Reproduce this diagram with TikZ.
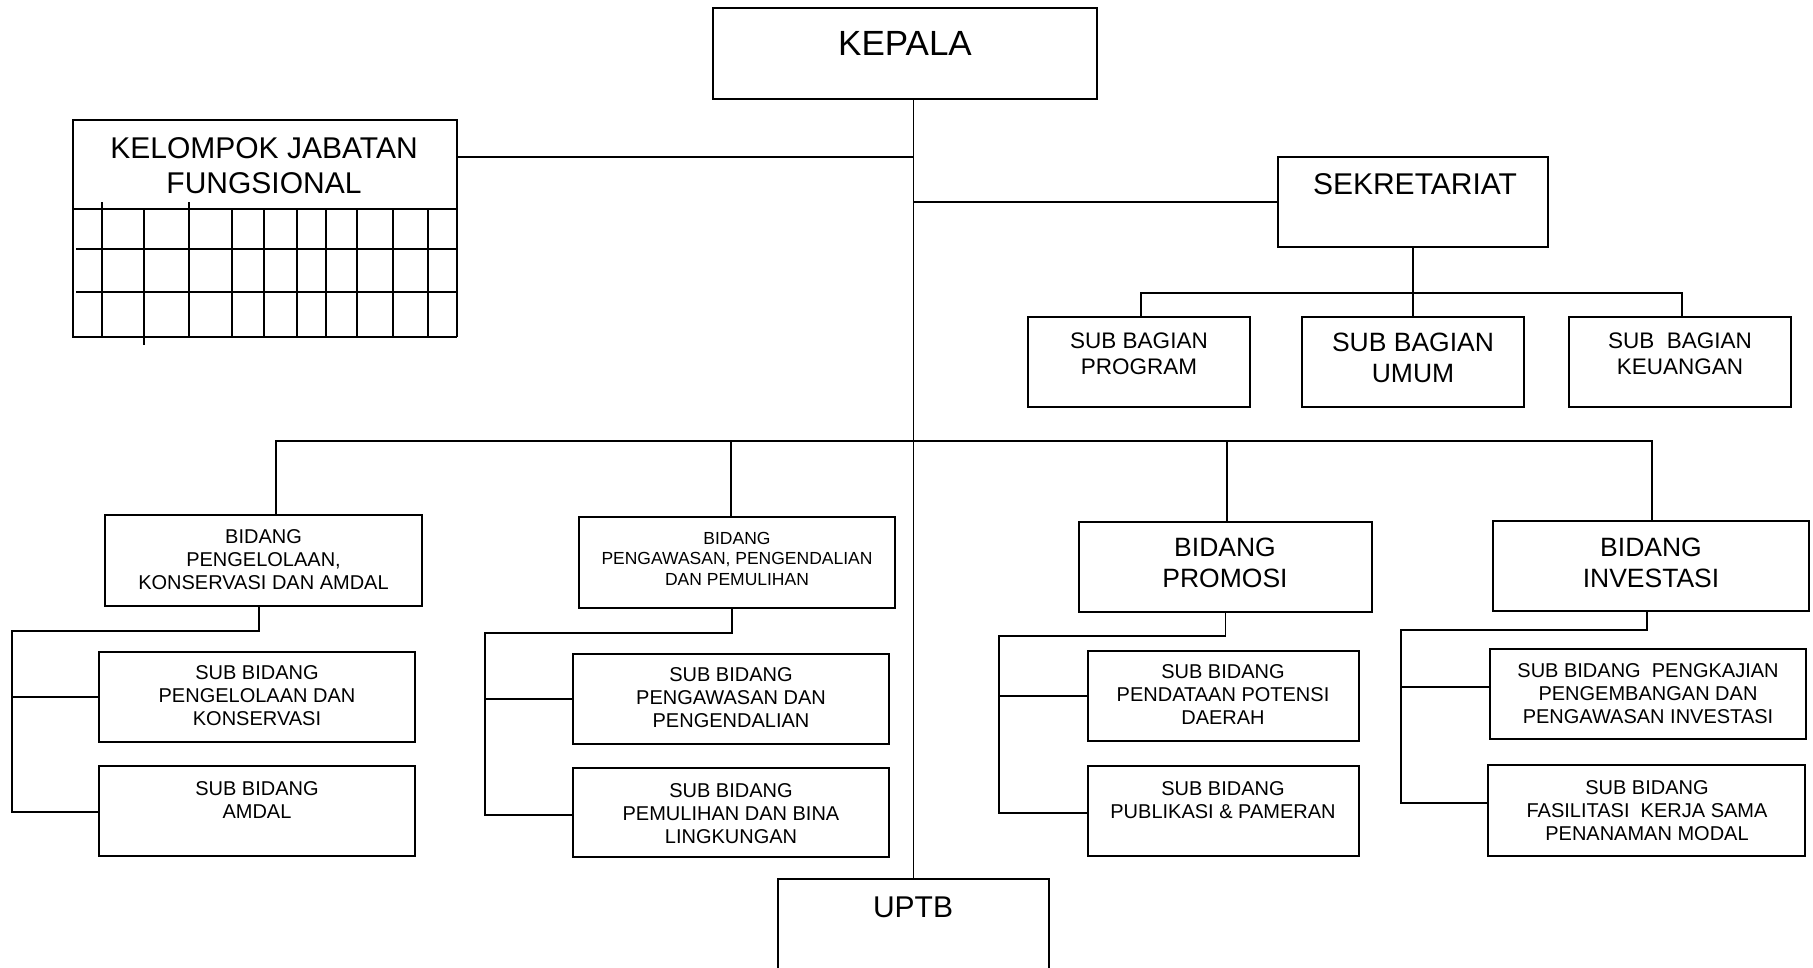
\documentclass[tikz,border=0pt]{standalone}
\usepackage{fontspec}
\setmainfont{Liberation Sans}
\tikzset{
  box/.style={draw, line width=1.8pt, rectangle, inner sep=0pt, outer sep=0pt},
  conn/.style={line width=1.8pt},
  gridln/.style={line width=1.8pt},
  tA/.style={font=\fontsize{35}{40}\selectfont, align=center, inner sep=0pt},
  tB/.style={font=\fontsize{30}{35}\selectfont, align=center, inner sep=0pt},
  tC/.style={font=\fontsize{26.5}{31}\selectfont, align=center, inner sep=0pt},
  tD/.style={font=\fontsize{22.5}{26}\selectfont, align=center, inner sep=0pt},
  tE/.style={font=\fontsize{20}{23}\selectfont, align=center, inner sep=0pt},
  tF/.style={font=\fontsize{17.5}{20.5}\selectfont, align=center, inner sep=0pt},
}
\newcommand\orgbox[5]{\node[box, minimum width={(#4)-(#2)}, minimum height={(#5)-(#3)}] (#1) at ({((#2)+(#4))/2},{((#3)+(#5))/2}) {};}
\begin{document}
\begin{tikzpicture}[x=1pt,y=-1pt]
\useasboundingbox (0,0) rectangle (1813,967);
\clip (0,0) rectangle (1813,967);

% ---------- boxes ----------
\orgbox{kepala}{713}{8}{1097}{99}
\orgbox{kel}{73}{120}{457}{209}
\orgbox{sek}{1278}{157}{1548}{247}
\orgbox{prog}{1028}{317}{1250}{407}
\orgbox{umum}{1302}{317}{1524}{407}
\orgbox{keu}{1569}{317}{1791}{407}
\orgbox{b1}{105}{515}{422}{606}
\orgbox{b2}{579}{517}{895}{608}
\orgbox{b3}{1079}{522}{1372}{612}
\orgbox{b4}{1493}{521}{1809}{611}
\orgbox{s11}{99}{652}{415}{742}
\orgbox{s12}{99}{766}{415}{856}
\orgbox{s21}{573}{654}{889}{744}
\orgbox{s22}{573}{768}{889}{857}
\orgbox{s31}{1088}{651}{1359}{741}
\orgbox{s32}{1088}{766}{1359}{856}
\orgbox{s41}{1490}{649}{1806}{739}
\orgbox{s42}{1488}{765}{1805}{856}
\orgbox{uptb}{778}{879}{1049}{990}

% ---------- texts ----------
\node[tA] (kepala-t) at (905,43) {KEPALA};
\node[tB] (kel-t) at (264,165.5) {KELOMPOK JABATAN\\FUNGSIONAL};
\node[tB] (sek-t) at (1415,184.5) {SEKRETARIAT};
\node[tD] (prog-t) at (1139,354) {SUB BAGIAN\\PROGRAM};
\node[tC] (umum-t) at (1413,358) {SUB BAGIAN\\UMUM};
\node[tD] (keu-t) at (1680,354) {SUB\ \ BAGIAN\\KEUANGAN};
\node[tE] (b1-t) at (263.5,560) {BIDANG\\PENGELOLAAN,\\KONSERVASI DAN AMDAL};
\node[tF] (b2-t) at (737,558.5) {BIDANG\\PENGAWASAN, PENGENDALIAN\\DAN PEMULIHAN};
\node[tC] (b3-t) at (1225,562.5) {BIDANG\\PROMOSI};
\node[tC] (b4-t) at (1651,562.5) {BIDANG\\INVESTASI};
\node[tE] (s11-t) at (257,696) {SUB BIDANG\\PENGELOLAAN DAN\\KONSERVASI};
\node[tE] (s12-t) at (257,800.5) {SUB BIDANG\\AMDAL};
\node[tE] (s21-t) at (731,698) {SUB BIDANG\\PENGAWASAN DAN\\PENGENDALIAN};
\node[tE] (s22-t) at (731,813.5) {SUB BIDANG\\PEMULIHAN DAN BINA\\LINGKUNGAN};
\node[tE] (s31-t) at (1223,695) {SUB BIDANG\\PENDATAAN POTENSI\\DAERAH};
\node[tE] (s32-t) at (1223,800.5) {SUB BIDANG\\PUBLIKASI \& PAMERAN};
\node[tE] (s41-t) at (1648,693.5) {SUB BIDANG\ \ PENGKAJIAN\\PENGEMBANGAN DAN\\PENGAWASAN INVESTASI};
\node[tE] (s42-t) at (1647,811) {SUB BIDANG\\FASILITASI\ \ KERJA SAMA\\PENANAMAN MODAL};
\node[tB] (uptb-t) at (913,907) {UPTB};

% ---------- grid under KELOMPOK JABATAN FUNGSIONAL ----------
\foreach \gx in {231.7,264,296.7,325.7,356.7,393.3}
  \draw[gridln] (\gx,209) -- (\gx,337);
\draw[gridln] (102.3,202) -- (102.3,337);
\draw[gridln] (189.3,202) -- (189.3,337);
\draw[gridln] (144,209) -- (144,345);
\draw[gridln] (427.7,210) -- (427.7,337);
\draw[gridln] (72.7,209) -- (72.7,338);
\draw[gridln] (456.7,209) -- (456.7,337);
\draw[gridln] (76,249) -- (457,249);
\draw[gridln] (76,292) -- (457,292);
\draw[gridln] (73,337) -- (457,337);

% ---------- connectors ----------
\draw[conn] (kepala.south -| uptb.north) -- (uptb.north);
\draw[conn] (kel.east |- 0,157) -- (uptb.north |- 0,157);
\draw[conn] (uptb.north |- sek.west) -- (sek.west);

\coordinate (sb) at (1415,293);
\draw[conn] (sek.south) -- (umum.north);
\draw[conn] ([xshift=2pt]prog.north) |- (sb);
\draw[conn] ([xshift=2pt]keu.north) |- (sb);

\coordinate (mb) at (915,441);
\draw[conn] ([xshift=12.5pt]b1.north) |- (mb);
\draw[conn] ([xshift=1pt]b4.north) |- (mb);
\draw[conn] ([xshift=-6pt]b2.north) -- ([xshift=-6pt]b2.north |- mb);
\draw[conn] ([xshift=1.5pt]b3.north) -- ([xshift=1.5pt]b3.north |- mb);

\coordinate (c1) at (12,631);
\path ([yshift=-1pt]s12.west) coordinate (s12in);
\draw[conn] ([xshift=-4.5pt]b1.south) |- (c1) |- (s12in);
\draw[conn] (c1 |- s11.west) -- (s11.west);

\coordinate (c2) at (485,633);
\path ([yshift=-2.5pt]s22.west) coordinate (s22in);
\draw[conn] ([xshift=-5pt]b2.south) |- (c2) |- (s22in);
\draw[conn] (c2 |- s21.west) -- (s21.west);

\coordinate (c3) at (999,636);
\path ([yshift=-2pt]s32.west) coordinate (s32in);
\draw[conn] (b3.south) |- (c3) |- (s32in);
\draw[conn] (c3 |- s31.west) -- (s31.west);

\coordinate (c4) at (1401,630);
\path ([yshift=7.5pt]s42.west) coordinate (s42in);
\path ([yshift=7pt]s41.west) coordinate (s41in);
\draw[conn] ([xshift=-4pt]b4.south) |- (c4) |- (s42in);
\draw[conn] (c4 |- s41in) -- (s41in);
\end{tikzpicture}
\end{document}
